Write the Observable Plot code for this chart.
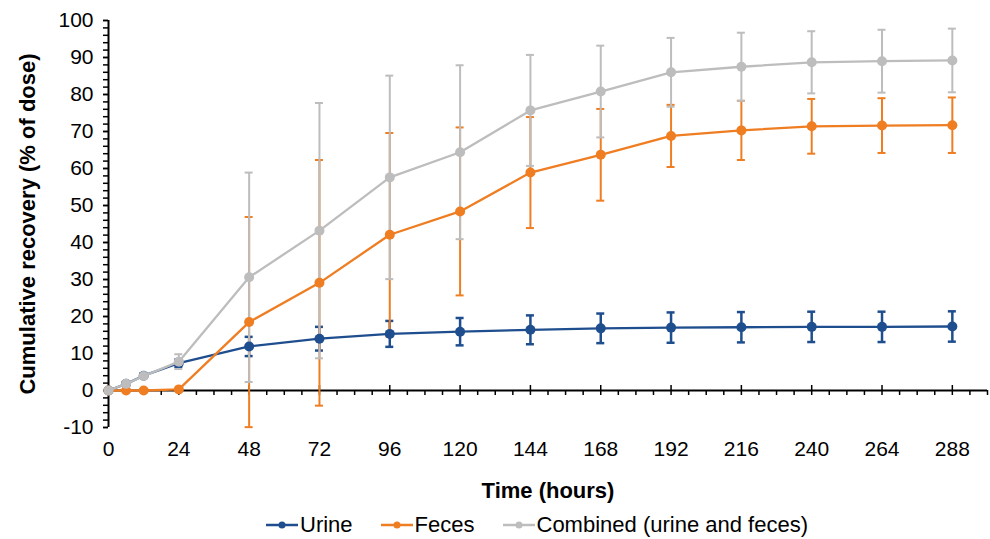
<!DOCTYPE html>
<html>
<head>
<meta charset="utf-8">
<script src="https://cdn.jsdelivr.net/npm/d3@7"></script>
<script src="https://cdn.jsdelivr.net/npm/@observablehq/plot@0.6"></script>
<style>
  body { margin: 0; background: #fff; font-family: Arial, "Liberation Sans", sans-serif; }
  #chart svg { display: block; }
  #legend { display: flex; justify-content: center; align-items: center; height: 40px; font-size: 22px; color: #000; padding-left: 84px; }
  .item { display: flex; align-items: center; margin: 0 14px; }
  .item svg { margin-right: 2px; }
</style>
</head>
<body>
<div id="chart"></div>
<div id="legend"></div>
<script>
// ---- data ----
const times = [0, 6, 12, 24, 48, 72, 96, 120, 144, 168, 192, 216, 240, 264, 288];

const urineMean    = [0, 1.8, 4.0, 7.4, 11.9, 14.0, 15.3, 15.9, 16.4, 16.8, 17.0, 17.1, 17.2, 17.2, 17.3];
const urineSD      = [0, 0.3, 0.5, 1.0, 2.6, 3.2, 3.5, 3.7, 3.9, 4.0, 4.1, 4.1, 4.1, 4.1, 4.1];

const fecesMean    = [0, 0, 0, 0.3, 18.5, 29.1, 42.1, 48.4, 58.9, 63.7, 68.8, 70.3, 71.4, 71.6, 71.7];
const fecesSD      = [0, 0, 0, 0.2, 28.4, 33.2, 27.5, 22.7, 15.0, 12.4, 8.4, 8.0, 7.4, 7.4, 7.5];

const combinedMean = [0, 1.8, 3.9, 7.8, 30.6, 43.2, 57.6, 64.4, 75.7, 80.8, 86.0, 87.5, 88.7, 89.0, 89.2];
const combinedSD   = [0, 0.3, 0.5, 2.0, 28.3, 34.5, 27.5, 23.5, 15.0, 12.4, 9.3, 9.2, 8.4, 8.5, 8.6];

const seriesNames  = ["Urine", "Feces", "Combined (urine and feces)"];
const seriesColors = ["#1f4e8f", "#ef7d22", "#bdbdbd"];

const xTickLabels = d3.range(0, 289, 24);
const xMinorTicks = d3.range(0, 301, 6).filter(t => t % 24 !== 0);
const yTickLabels = d3.range(-10, 101, 10);
const yMinorTicks = d3.range(-10, 100.1, 2);

const xTitle = "Time (hours)";
const yTitle = "Cumulative recovery (% of dose)";

// ---- build table ----
const means = [urineMean, fecesMean, combinedMean];
const sds = [urineSD, fecesSD, combinedSD];
const series = seriesNames.map((name, s) =>
  times.map((t, i) => ({ series: name, t, mean: means[s][i], sd: sds[s][i] }))
);

// ---- layout ----
const W = 990, H = 505;
const mL = 108, mR = 3, mT = 20, mB = 78;
const xDomain = [0, 300], yDomain = [-10, 100];
const xPx = (W - mL - mR) / (xDomain[1] - xDomain[0]);
const yPx = (H - mT - mB) / (yDomain[1] - yDomain[0]);
const capHalf = 4 / xPx;
const tickLen = 5 / yPx;
const font = 'Arial, "Liberation Sans", sans-serif';

const marks = [
  // y axis
  Plot.axisY({ ticks: yMinorTicks, tickSize: 5, tickFormat: () => "", strokeWidth: 1.5, label: null }),
  Plot.axisY({ ticks: yTickLabels, tickSize: 5, tickPadding: 10, fontSize: 21, strokeWidth: 1.5, tickFormat: d => String(d), label: null }),
  Plot.ruleX([0], { stroke: "#000", strokeWidth: 2 }),
  // x axis labels at bottom
  Plot.axisX({ ticks: xTickLabels, tickSize: 0, tickPadding: 14, fontSize: 21, tickFormat: d => String(d), label: null }),
  // x axis line at y = 0 with ticks
  Plot.ruleY([0], { stroke: "#000", strokeWidth: 2 }),
  Plot.ruleX(xMinorTicks, { x: d => d, y1: 0, y2: -tickLen, stroke: "#000", strokeWidth: 1.5 }),
  Plot.ruleX(xTickLabels, { x: d => d, y1: tickLen, y2: -tickLen, stroke: "#000", strokeWidth: 1.5 }),
  // titles
  Plot.text([yTitle], { frameAnchor: "left", dx: -81, rotate: -90, textAnchor: "middle", fontWeight: "bold", fontSize: 22, lineAnchor: "middle", fill: "#000" }),
  Plot.text([xTitle], { frameAnchor: "bottom", dy: 63, textAnchor: "middle", fontWeight: "bold", fontSize: 22, lineAnchor: "middle", fill: "#000" })
];

// error bars first (all series), then lines + dots
series.forEach((rows, s) => {
  const bars = rows.filter(d => d.sd > 0);
  const sw = s === 0 ? 2.5 : 2;
  marks.push(
    Plot.ruleX(bars, { x: "t", y1: d => d.mean - d.sd, y2: d => d.mean + d.sd, stroke: seriesColors[s], strokeWidth: sw }),
    Plot.ruleY(bars, { y: d => d.mean + d.sd, x1: d => d.t - capHalf, x2: d => d.t + capHalf, stroke: seriesColors[s], strokeWidth: sw }),
    Plot.ruleY(bars, { y: d => d.mean - d.sd, x1: d => d.t - capHalf, x2: d => d.t + capHalf, stroke: seriesColors[s], strokeWidth: sw })
  );
});
series.forEach((rows, s) => {
  marks.push(
    Plot.line(rows, { x: "t", y: "mean", stroke: seriesColors[s], strokeWidth: 2.3 }),
    Plot.dot(rows, { x: "t", y: "mean", r: 5, fill: seriesColors[s], stroke: "none" })
  );
});

const chart = Plot.plot({
  width: W, height: H,
  marginLeft: mL, marginRight: mR, marginTop: mT, marginBottom: mB,
  x: { domain: xDomain },
  y: { domain: yDomain },
  style: { fontFamily: font, fontSize: "21px", color: "#000", background: "#fff", overflow: "visible" },
  marks
});
document.getElementById("chart").append(chart);

// ---- legend ----
const legend = document.getElementById("legend");
seriesNames.forEach((name, s) => {
  const item = document.createElement("div");
  item.className = "item";
  item.innerHTML = `<svg width="32" height="12"><line x1="0" y1="6" x2="32" y2="6" stroke="${seriesColors[s]}" stroke-width="2.5"/><circle cx="16" cy="6" r="3.5" fill="${seriesColors[s]}"/></svg><span>${name}</span>`;
  legend.append(item);
});
</script>
</body>
</html>
